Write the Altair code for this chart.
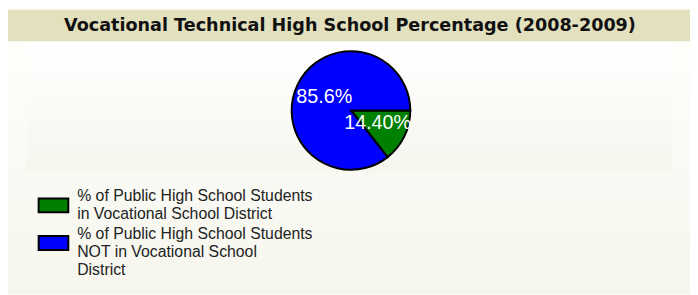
import altair as alt
import pandas as pd
import math

title_text = "Vocational Technical High School Percentage (2008-2009)"
categories = [
    "% of Public High School Students\nin Vocational School District",
    "% of Public High School Students\nNOT in Vocational School\nDistrict",
]
values = [14.4, 85.6]
labels = ["14.40%", "85.6%"]
order = [0, 1]
colors = ["#008000", "#0000ff"]

df = pd.DataFrame({"category": categories, "value": values, "label": labels, "order": order})

W, H = 690, 287
one = alt.Chart(pd.DataFrame({"a": [0]}))

band = one.mark_rect(color="#e2e0bd").encode(
    x=alt.value(0), x2=alt.value(W), y=alt.value(0), y2=alt.value(32)
)
panel = one.mark_rect(
    color=alt.LinearGradient(
        gradient="linear", x1=0, x2=0, y1=0, y2=1,
        stops=[alt.GradientStop(offset=0, color="#fefefb"), alt.GradientStop(offset=1, color="#f6f6ee")],
    )
).encode(x=alt.value(0), x2=alt.value(W), y=alt.value(32), y2=alt.value(H))
inner = one.mark_rect(
    color=alt.LinearGradient(
        gradient="linear", x1=0, x2=0, y1=0, y2=1,
        stops=[alt.GradientStop(offset=0, color="#ffffff"), alt.GradientStop(offset=1, color="#f6f6ef")],
    )
).encode(x=alt.value(19), x2=alt.value(672), y=alt.value(32), y2=alt.value(164))

title = one.mark_text(
    text=title_text, font="DejaVu Sans", fontSize=17.8, fontWeight="bold",
    color="#111111", baseline="alphabetic", align="center",
).encode(x=alt.value(346), y=alt.value(21.3))

base = alt.Chart(df).encode(
    theta=alt.Theta("value:Q", stack=True,
                    scale=alt.Scale(domain=[0, 100], range=[math.pi / 2, math.pi / 2 + 2 * math.pi])),
    order=alt.Order("order:Q"),
    x=alt.value(347),
    y=alt.value(102),
)

pie = base.mark_arc(radius=60, stroke="black", strokeWidth=2).encode(
    color=alt.Color(
        "category:N",
        scale=alt.Scale(domain=categories, range=colors),
        legend=alt.Legend(
            orient="none", legendX=30, legendY=182, title=None,
            symbolType="M-1,-0.47H1V0.47H-1Z", symbolSize=900,
            symbolStrokeColor="black", symbolStrokeWidth=2, symbolOpacity=1,
            labelFont="Liberation Sans", labelFontSize=16, labelColor="#222222",
            labelLimit=500, labelOffset=8, rowPadding=4,
            labelBaseline="line-bottom",
            labelExpr="split(datum.label, '\\n')",
        ),
    )
)

text = base.mark_text(
    radius=30, font="Liberation Sans", fontSize=20, color="white",
    align="center", baseline="middle",
).encode(text="label:N")

chart = alt.layer(panel, inner, band, title, pie, text).properties(
    width=W, height=H, background="#fbfbf6", padding=0,
    autosize=alt.AutoSizeParams(type="none"),
).configure_view(stroke=None)

chart.save("out.html", embed_options={"renderer": "svg", "actions": False})
